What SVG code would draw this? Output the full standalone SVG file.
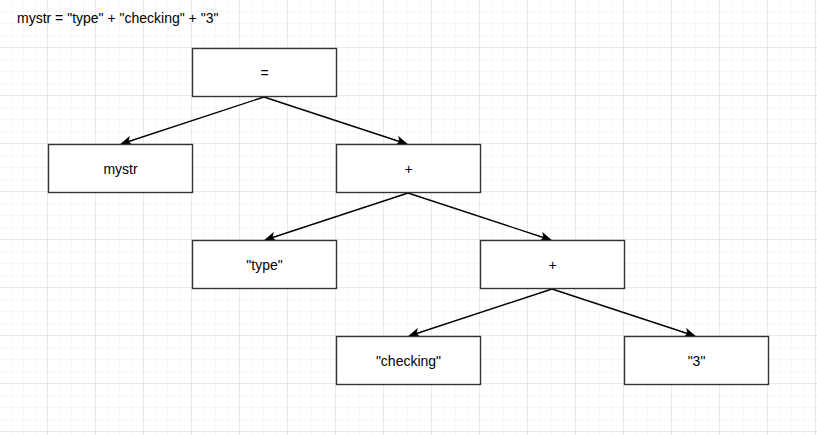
<svg xmlns="http://www.w3.org/2000/svg" width="817" height="435" viewBox="0 0 817 435">
<defs>
<pattern id="minor" width="12" height="12" patternUnits="userSpaceOnUse">
<path d="M12 0V12M0 12H12" fill="none" stroke="#efefef" stroke-width="1"/>
</pattern>
<pattern id="major" width="48" height="48" patternUnits="userSpaceOnUse">
<rect width="48" height="48" fill="url(#minor)"/>
<path d="M48 0V48M0 48H48" fill="none" stroke="#dadada" stroke-width="1"/>
</pattern>
<marker id="arr" viewBox="0 0 12 10" refX="11" refY="5" markerWidth="12" markerHeight="10" markerUnits="userSpaceOnUse" orient="auto">
<path d="M0 0L12 5L0 10L3 5Z" fill="#000"/>
</marker>
<style>
.node rect{fill:#fff;stroke:#333;stroke-width:1.4}
.node text,.title{font-family:"Liberation Sans",Arial,sans-serif;font-size:14px;fill:#000}
.node text{text-anchor:middle}
.edges path{fill:none;stroke:#000;stroke-width:1.4;marker-end:url(#arr)}
</style>
</defs>
<rect width="817" height="435" fill="#fff"/>
<rect x="0.5" y="0.5" width="817" height="435" fill="url(#major)"/>
<text class="title" x="17" y="23">mystr = "type" + "checking" + "3"</text>
<g class="edges" id="connectors">
<path d="M264 97L121 144"/>
<path d="M264 97L407 144"/>
<path d="M408 193L265 240"/>
<path d="M408 193L551 240"/>
<path d="M552 289L409 336"/>
<path d="M552 289L695 336"/>
</g>
<g class="node" id="n-assign"><rect x="192.5" y="48.5" width="144" height="48"/><text x="264.5" y="77.5">=</text></g>
<g class="node" id="n-mystr"><rect x="48.5" y="144.5" width="144" height="48"/><text x="120.5" y="173.5">mystr</text></g>
<g class="node" id="n-plus1"><rect x="336.5" y="144.5" width="144" height="48"/><text x="408.5" y="173.5">+</text></g>
<g class="node" id="n-type"><rect x="192.5" y="240.5" width="144" height="48"/><text x="264.5" y="269.5">"type"</text></g>
<g class="node" id="n-plus2"><rect x="480.5" y="240.5" width="144" height="48"/><text x="552.5" y="269.5">+</text></g>
<g class="node" id="n-checking"><rect x="336.5" y="336.5" width="144" height="48"/><text x="408.5" y="365.5">"checking"</text></g>
<g class="node" id="n-three"><rect x="624.5" y="336.5" width="144" height="48"/><text x="696.5" y="365.5">"3"</text></g>
</svg>
